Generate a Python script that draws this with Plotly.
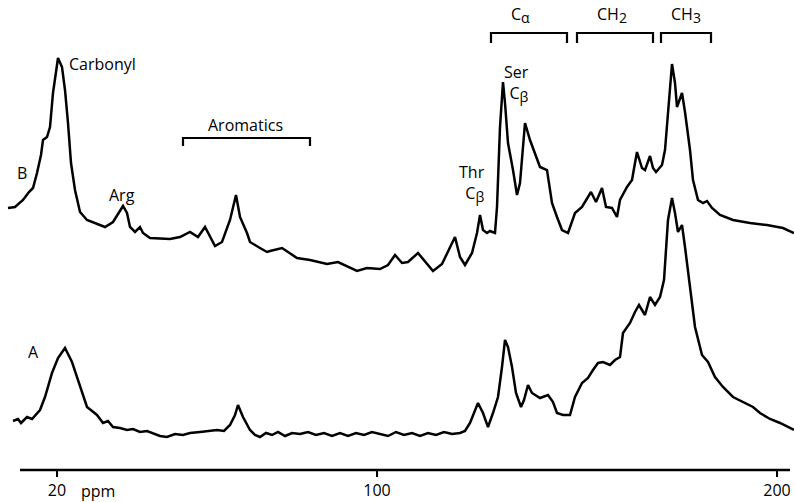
import plotly.graph_objects as go

# 13C NMR spectra: chemical shift (ppm) and stacked signal height (a.u.)
ppm_b = [7.75, 9.5, 11.5, 13.0, 14.0, 15.0, 16.0, 16.5, 17.5, 18.25, 19.0, 19.75, 20.25, 21.25,
         22.0, 22.75, 23.5, 24.5, 25.75, 27.5, 30.0, 32.0, 34.0, 35.75, 36.5, 37.5, 38.25, 39.5,
         40.75, 41.5, 43.25, 48.25, 50.75, 53.25, 55.25, 57.0, 57.75, 59.5, 61.25, 63.25, 64.75,
         65.75, 67.5, 68.25, 70.75, 72.5, 73.25, 76.25, 77.75, 80.0, 83.25, 87.5, 90.25, 92.5,
         95.0, 97.5, 100.75, 102.75, 104.5, 106.25, 107.75, 110.25, 112.5, 114.0, 116.25, 117.75,
         119.5, 120.75, 122.0, 123.75, 125.0, 125.75, 126.5, 127.5, 128.25, 129.5, 130.0, 130.75,
         131.5, 132.0, 132.75, 134.0, 135.0, 135.75, 136.25, 137.0, 138.25, 139.5, 140.75, 142.5,
         143.75, 145.0, 146.25, 147.75, 149.5, 151.25, 152.5, 153.5, 154.75, 156.25, 157.25,
         158.75, 160.0, 160.75, 162.5, 163.75, 164.5, 165.0, 166.25, 167.0, 168.25, 169.0, 169.75,
         171.25, 172.0, 172.75, 173.25, 173.75, 174.5, 175.0, 176.25, 177.0, 178.25, 179.0, 180.25,
         181.5, 182.5, 183.75, 185.75, 189.0, 193.25, 197.5, 201.5, 204.25]
int_b = [262, 263, 270, 278, 282, 297, 315, 330, 333, 343, 377, 400, 412, 403,
         380, 347, 307, 280, 258, 250, 246, 243, 248, 260, 264, 257, 243, 238,
         243, 237, 232, 231, 233, 238, 233, 243, 237, 224, 228, 250, 275,
         253, 237, 228, 222, 218, 219, 222, 218, 212, 210, 206, 208, 204,
         199, 202, 201, 205, 215, 207, 208, 217, 206, 199, 206, 218,
         233, 213, 205, 217, 237, 255, 240, 237, 239, 237, 263, 343,
         388, 367, 327, 300, 275, 287, 310, 347, 330, 317, 303, 300,
         267, 253, 240, 237, 257, 263, 272, 278, 268, 282, 263,
         262, 253, 270, 283, 290, 307, 318, 302, 300, 314, 302, 298,
         305, 320, 357, 390, 406, 387, 363, 377, 358, 320, 290, 270,
         267, 269, 262, 255, 250, 247, 245, 242, 237]

ppm_a = [9.0, 10.25, 11.0, 12.5, 13.75, 15.75, 17.0, 18.75, 20.25, 22.0, 23.75, 25.25, 27.5,
         30.0, 31.5, 32.75, 34.0, 35.75, 37.5, 39.0, 40.75, 42.5, 44.0, 45.75, 47.5, 49.5, 51.5,
         53.25, 55.75, 57.75, 60.0, 61.75, 63.25, 64.5, 65.25, 66.5, 68.25, 69.5, 70.75, 72.25,
         73.75, 75.25, 77.0, 78.75, 80.75, 82.75, 84.75, 86.75, 88.75, 90.75, 92.75, 94.75, 96.75,
         98.75, 100.75, 102.75, 104.75, 106.75, 108.75, 110.75, 112.75, 114.75, 116.75, 118.75,
         120.75, 122.0, 123.25, 124.25, 125.25, 126.5, 127.75, 129.0, 130.25, 131.25, 132.0,
         132.75, 133.75, 134.75, 136.0, 136.75, 137.75, 138.75, 140.75, 142.75, 144.0, 145.0,
         146.5, 148.25, 149.5, 151.25, 152.75, 154.0, 155.25, 156.5, 158.25, 159.5, 160.75, 161.5,
         163.25, 164.5, 165.5, 167.0, 168.25, 169.5, 170.75, 171.75, 172.25, 172.75, 173.75,
         174.5, 175.25, 176.25, 177.0, 178.25, 179.5, 181.25, 182.75, 184.5, 186.5, 189.0, 191.5,
         194.0, 195.75, 198.25, 200.75, 203.25, 204.25]
int_a = [49, 51, 47, 53, 51, 60, 73, 97, 112, 122, 108, 90, 63,
         55, 47, 49, 43, 42, 40, 41, 38, 39, 37, 34, 33, 36, 35,
         37, 38, 39, 40, 39, 45, 55, 65, 53, 40, 35, 33, 37,
         35, 38, 34, 37, 36, 38, 35, 37, 34, 37, 34, 37, 35,
         38, 36, 34, 38, 35, 37, 34, 37, 35, 38, 36,
         37, 39, 47, 58, 67, 57, 43, 57, 73, 103, 130,
         123, 103, 77, 63, 70, 85, 77, 72, 75, 68, 57,
         55, 55, 73, 87, 92, 100, 107, 108, 105, 110, 113, 137,
         147, 158, 165, 155, 173, 165, 173, 190, 223, 250, 272,
         257, 238, 245, 223, 180, 143, 115, 108, 93, 83, 73, 68,
         63, 57, 51, 47, 42, 40]

tick_vals = [20, 100, 200]
tick_text = ["20", "100", "200"]

FONT = "Open Sans"
INK = "black"

fig = go.Figure()
for xs, ys in ((ppm_a, int_a), (ppm_b, int_b)):
    fig.add_trace(go.Scatter(x=xs, y=ys, mode="lines",
                             line=dict(color=INK, width=2.5, shape="linear"),
                             hoverinfo="skip", showlegend=False))

# baseline axis
fig.add_shape(type="line", xref="x", yref="paper", x0=10.75, x1=203.25, y0=0, y1=0,
              line=dict(color=INK, width=2.5))


def bracket(x0, x1, ytop, ylow):
    fig.add_shape(type="path", xref="x", yref="y",
                  path=f"M {x0},{ylow} L {x0},{ytop} L {x1},{ytop} L {x1},{ylow}",
                  line=dict(color=INK, width=2.2))


bracket(51.5, 83.25, 332, 324)
bracket(128.5, 147.5, 437, 427)
bracket(150.0, 169.0, 437, 427)
bracket(171.0, 183.5, 437, 427)


def sub(base, s):
    return f"{base}<sub><span style='font-size:14px'>{s}</span></sub>"


labels = [
    (11.25, 297, "B", "center", "center"),
    (22.6, 406, "Carbonyl", "left", "center"),
    (36.25, 275, "Arg", "center", "center"),
    (67.0, 345, "Aromatics", "center", "center"),
    (127.6, 287, "Thr<br>" + sub("C", "β"), "right", "right"),
    (138.6, 387, "Ser<br>" + sub("C", "β"), "right", "right"),
    (135.75, 455, sub("C", "α"), "center", "center"),
    (158.75, 455, sub("CH", "2"), "center", "center"),
    (177.25, 455, sub("CH", "3"), "center", "center"),
    (14.0, 118, "A", "center", "center"),
]
for x, y, t, anchor, align in labels:
    fig.add_annotation(x=x, y=y, xref="x", yref="y", text=t, showarrow=False,
                       xanchor=anchor, yanchor="middle", align=align,
                       font=dict(family=FONT, size=16, color=INK))

# unit label beside the first tick
fig.add_annotation(x=30.25, y=-0.045, xref="x", yref="paper", text="ppm", showarrow=False,
                   xanchor="center", yanchor="middle",
                   font=dict(family=FONT, size=16, color=INK))

fig.update_layout(
    width=794, height=502,
    margin=dict(l=0, r=0, t=0, b=32),
    paper_bgcolor="white", plot_bgcolor="white",
    xaxis=dict(range=[5.75, 204.25], showgrid=False, zeroline=False, showline=False,
               tickmode="array", tickvals=tick_vals, ticktext=tick_text,
               ticks="outside", ticklen=6, tickwidth=2, tickcolor=INK,
               tickfont=dict(family=FONT, size=16, color=INK)),
    yaxis=dict(range=[0, 470], visible=False),
)

fig.write_html("out.html")
